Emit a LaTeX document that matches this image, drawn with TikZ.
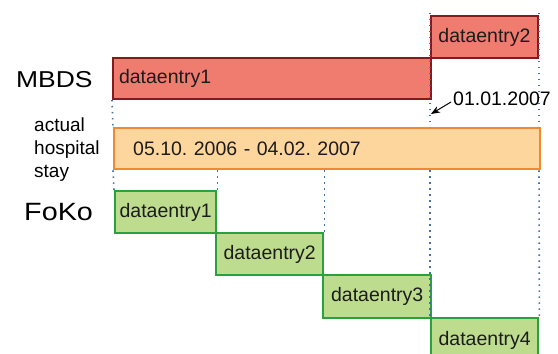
\documentclass[tikz,border=0pt]{standalone}
\usepackage{fontspec}
\setmainfont{Liberation Sans}
\usetikzlibrary{arrows.meta}
\frenchspacing
\definecolor{redfill}{RGB}{240,124,112}
\definecolor{redline}{RGB}{130,28,28}
\definecolor{orangefill}{RGB}{253,214,158}
\definecolor{orangeline}{RGB}{240,138,48}
\definecolor{greenfill}{RGB}{190,220,142}
\definecolor{greenline}{RGB}{42,160,62}
\definecolor{dotblue}{RGB}{70,112,160}
\definecolor{ink}{RGB}{28,28,28}
\newcommand{\wide}[1]{\scalebox{1.15}[1]{#1}}
\tikzset{
  entry/.style={draw, line width=2pt, inner sep=0pt, anchor=north west,
    text=ink, font=\fontsize{19.5}{22}\selectfont},
  mbdsbox/.style={entry, fill=redfill, draw=redline},
  staybox/.style={entry, fill=orangefill, draw=orangeline, line width=2.4pt,
    font=\fontsize{19.5}{23}\selectfont},
  fokobox/.style={entry, fill=greenfill, draw=greenline, line width=2.4pt},
  rowlabel/.style={inner sep=0pt, text=black},
  guide/.style={dotblue, line width=1.6pt, dash pattern=on 1.4pt off 4.6pt},
}
\begin{document}
\begin{tikzpicture}[x=1pt, y=-1pt]
\useasboundingbox (0,0) rectangle (558,354);
\clip (0,0) rectangle (558,354);

% MBDS entries
\node[mbdsbox, minimum width=318pt, minimum height=41pt, text width=306pt, align=left]
  (m1) at (112,57) {dataentry1};
\node[mbdsbox, minimum width=107pt, minimum height=42pt] (m2) at (430,15) {dataentry2};

% actual stay
\node[staybox, minimum width=426pt, minimum height=41pt, text width=388pt, align=left]
  (stay) at (113,127) {05.10. 2006 - 04.02. 2007};

% FoKo entries
\node[fokobox, minimum width=101pt, minimum height=42pt] (f1) at (114,190) {dataentry1};
\node[fokobox, minimum width=107pt, minimum height=42pt] (f2) at (215,232) {dataentry2};
\node[fokobox, minimum width=108pt, minimum height=43pt] (f3) at (322,274) {dataentry3};
\node[fokobox, minimum width=107pt, minimum height=45pt] (f4) at (430,317) {dataentry4};

% row labels
\node[rowlabel, anchor=base west, font=\fontsize{23}{26}\selectfont] (lmbds) at (16,87) {\wide{MBDS}};
\node[rowlabel, anchor=north west, align=left, font=\fontsize{19}{23}\selectfont] (lstay) at (34,118) {actual\\hospital\\stay};
\node[rowlabel, anchor=base west, font=\fontsize{25}{28}\selectfont] (lfoko) at (24,220) {\wide{FoKo}};

% time guides
\draw[guide] (m1.south west) -- (stay.north west);
\draw[guide] (stay.south west) -- (f1.north west);
\draw[guide] (f1.north east |- stay.south) -- (f1.north east);
\draw[guide] (f2.north east |- stay.south) -- (f2.north east);
\draw[guide] ([yshift=2pt]m2.north west) -- (m2.west |- stay.north);
\draw[guide] (m2.west |- stay.south) -- (f4.north west);
\draw[guide] ([yshift=2pt]m2.north east) -- (m2.east |- stay.north);
\draw[guide] (m2.east |- stay.south) -- (f4.north east);

% cut-over date
\node[rowlabel, anchor=base west, font=\fontsize{19.5}{22}\selectfont] (date) at (453,105) {01.01.2007};
\coordinate (tail) at (451,102);
\coordinate (tip) at (431,114);
\draw[line width=1pt, -{Stealth[length=9pt, width=7pt]}] (tail) -- (tip);
\end{tikzpicture}
\end{document}
